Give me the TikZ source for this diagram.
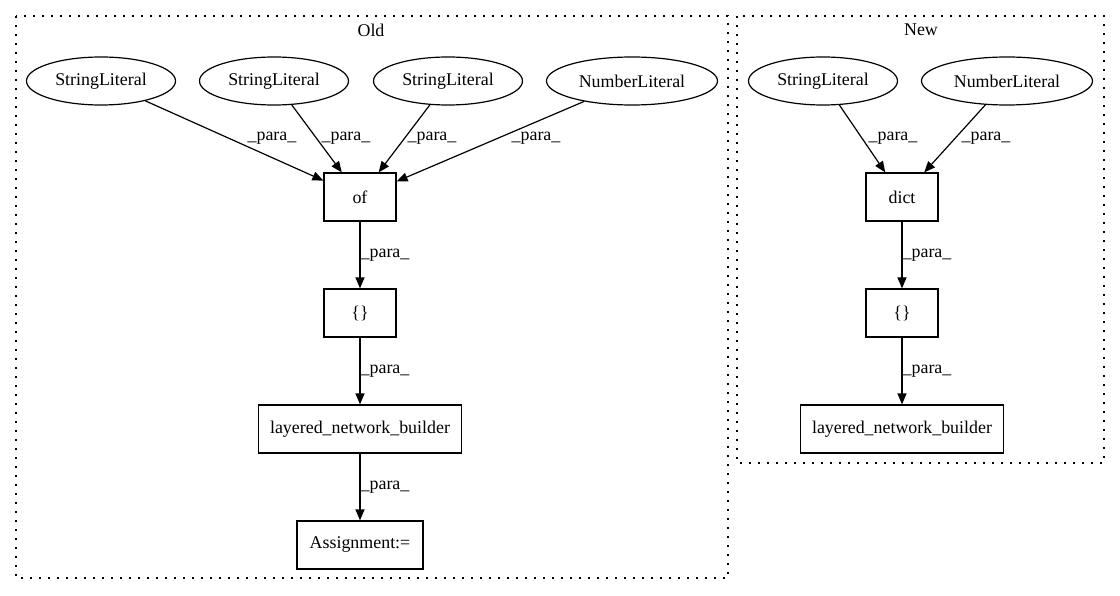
\documentclass[tikz,border=0pt]{standalone}
\usepackage{fontspec}
\setmainfont{Liberation Serif}
\usetikzlibrary{shapes.geometric,arrows.meta}
\begin{document}
\begin{tikzpicture}[x=1pt,y=-1pt,
    every node/.style={font=\fontsize{17.9}{20}\selectfont},
    lit/.style={draw,ellipse,line width=1.2pt,inner sep=0pt,minimum height=48pt},
    op/.style={draw,rectangle,line width=1.2pt,inner sep=0pt,minimum height=48pt},
    para/.style={line width=1.2pt,-{Triangle[length=11pt,width=9pt]}},
    lbl/.style={inner sep=0pt},
    clus/.style={line width=1.5pt,dash pattern=on 1.6pt off 7.4pt}]
    \useasboundingbox (0,0) rectangle (1120,596);
    \draw[clus] (16,16) rectangle (728,578);%旧版本的框
    \draw[clus] (737,16) rectangle (1104,463);%新版本的框
    \node (oldtitle) at (371,30) {Old};
    \node (newtitle) at (921,30) {New};
    % Old
    \node[lit,minimum width=149pt] (sl1) at (101,81) {StringLiteral};
    \node[lit,minimum width=149pt] (sl2) at (274,81) {StringLiteral};
    \node[lit,minimum width=149pt] (sl3) at (448,81) {StringLiteral};
    \node[lit,minimum width=171pt] (nl1) at (632,81) {NumberLiteral};
    \node[op,minimum width=72pt] (of) at (360,197) {of};
    \node[op,minimum width=72pt] (br1) at (360,313) {\{\}};
    \node[op,minimum width=203pt] (lnb1) at (360,429) {layered\_network\_builder};
    \node[op,minimum width=126pt] (asg) at (360,545) {Assignment:=};
    \draw[para] (sl1) -- (of) node[lbl] (p1) at (272,138) {\_para\_};
    \draw[para] (sl2) -- (of) node[lbl] (p2) at (346,138) {\_para\_};
    \draw[para] (sl3) -- (of) node[lbl] (p3) at (432,138) {\_para\_};
    \draw[para] (nl1) -- (of) node[lbl] (p4) at (536,138) {\_para\_};
    \draw[para] (of) -- (br1) node[lbl] (p5) at (385,255) {\_para\_};
    \draw[para] (br1) -- (lnb1) node[lbl] (p6) at (385,371) {\_para\_};
    \draw[para] (lnb1) -- (asg) node[lbl] (p7) at (385,487) {\_para\_};
    % New
    \node[lit,minimum width=149pt] (sl4) at (823,81) {StringLiteral};
    \node[lit,minimum width=171pt] (nl2) at (1007,81) {NumberLiteral};
    \node[op,minimum width=72pt] (dict) at (902,197) {dict};
    \node[op,minimum width=72pt] (br2) at (902,313) {\{\}};
    \node[op,minimum width=203pt] (lnb2) at (902,429) {layered\_network\_builder};
    \draw[para] (sl4) -- (dict) node[lbl] (p8) at (893,138) {\_para\_};
    \draw[para] (nl2) -- (dict) node[lbl] (p9) at (986,138) {\_para\_};
    \draw[para] (dict) -- (br2) node[lbl] (p10) at (927,255) {\_para\_};
    \draw[para] (br2) -- (lnb2) node[lbl] (p11) at (927,371) {\_para\_};
\end{tikzpicture}
\end{document}
